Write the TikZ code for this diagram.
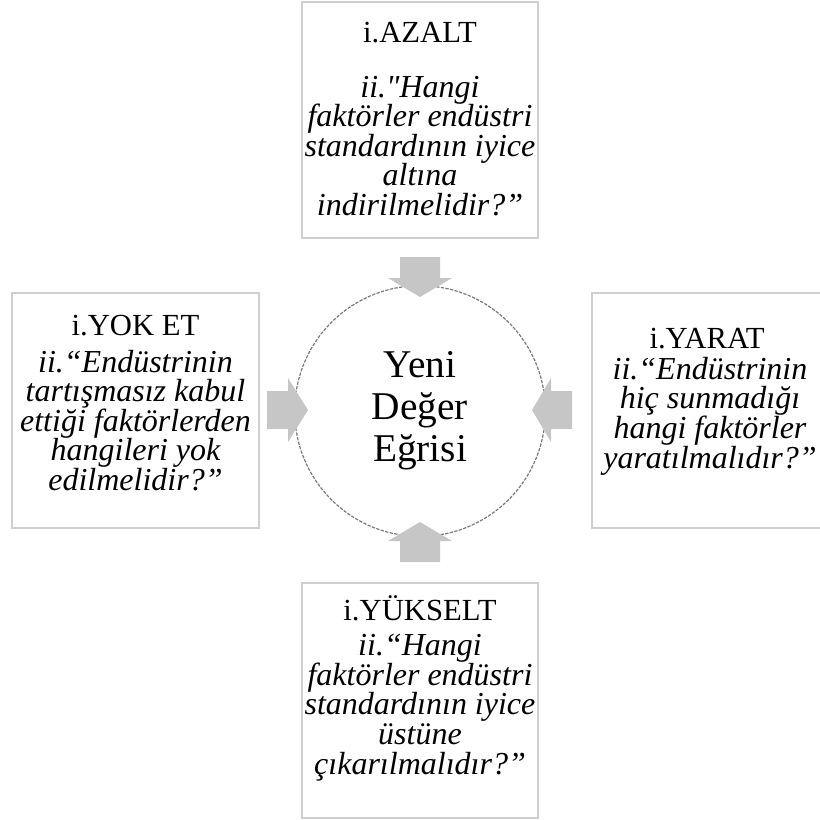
\documentclass[tikz,border=0pt]{standalone}
\usepackage{fontspec}
\setmainfont{Liberation Serif}[Ligatures=TeXOff]
\usetikzlibrary{positioning}
\definecolor{frame}{HTML}{CFCFCF}
\definecolor{arrowfill}{HTML}{C6C6C6}
\definecolor{ring}{HTML}{7A7A7A}
\newcommand\tightsize[2]{\fontsize{#1}{#2}\selectfont\lineskiplimit=-50pt\relax}

\begin{document}
\begin{tikzpicture}[x=.75pt,y=-.75pt,every node/.style={text=black,inner sep=0pt},boxframe/.style={draw=frame,line width=1.2pt},head/.style={font=\fontsize{23}{24}\selectfont,anchor=base},body/.style={font=\tightsize{24}{22.2}\itshape,align=center},blockarrow/.style={fill=arrowfill},hub/.style={circle,draw=ring,line width=.9pt,dash pattern=on 2.5pt off 1pt,minimum size=188,font=\tightsize{29.5}{31.5},align=center}]
\path[use as bounding box] (0,0) rectangle (820,819);

% four boxes
\draw[boxframe] (302,2) rectangle (538,238);
\draw[boxframe] (12,293) rectangle (259,528);
\draw[boxframe] (592,293) rectangle (845,528);
\draw[boxframe] (302,583) rectangle (538,818);

\node[head] (azalt) at (420,42) {i.AZALT};
\node[body] (azaltq) at (420,146) {ii."Hangi\\faktörler endüstri\\standardının iyice\\altına\\indirilmelidir?”};

\node[head] (yoket) at (135.5,335) {i.YOK ET};
\node[body] (yoketq) at (135.5,420.5) {ii.“Endüstrinin\\tartışmasız kabul\\ettiği faktörlerden\\hangileri yok\\edilmelidir?”};

\node[head] (yarat) at (707,348) {i.YARAT};
\node[body] (yaratq) at (710,416) {ii.“Endüstrinin\\hiç sunmadığı\\hangi faktörler\\yaratılmalıdır?”};

\node[head] (yukselt) at (420,620) {i.YÜKSELT};
\node[body] (yukseltq) at (420,707.5) {ii.“Hangi\\faktörler endüstri\\standardının iyice\\üstüne\\çıkarılmalıdır?”};

% centre
\node[hub] (egri) at (420,411) {Yeni\\Değer\\Eğrisi};

% block arrows
\fill[blockarrow] (400,257)--(440,257)--(440,278)--(452,278)--(420,297)--(388,278)--(400,278)--cycle;
\fill[blockarrow] (400,562)--(440,562)--(440,541)--(452,541)--(420,522)--(388,541)--(400,541)--cycle;
\fill[blockarrow] (267,391)--(288,391)--(288,378)--(308,410)--(288,442)--(288,429)--(267,429)--cycle;
\fill[blockarrow] (572,391)--(551,391)--(551,378)--(532,410)--(551,442)--(551,429)--(572,429)--cycle;

\end{tikzpicture}
\end{document}
